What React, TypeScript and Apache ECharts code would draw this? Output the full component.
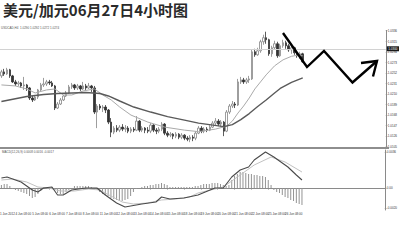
import React, { useEffect, useRef } from "react";
import * as echarts from "echarts";

// USD/CAD 4-hour bars, 1 Jun 12:00 .. 27 Jun 08:00 (2012)
const tradingDays = [
  "1 Jun", "4 Jun", "5 Jun", "6 Jun", "7 Jun", "8 Jun", "11 Jun", "12 Jun", "13 Jun", "14 Jun",
  "15 Jun", "18 Jun", "19 Jun", "20 Jun", "21 Jun", "22 Jun", "25 Jun", "26 Jun", "27 Jun",
  "28 Jun", "29 Jun", "2 Jul", "3 Jul", "4 Jul",
];
const barHours = ["00:00", "04:00", "08:00", "12:00", "16:00", "20:00"];

const opens = [
  1.0246, 1.0254, 1.025, 1.0258, 1.0246, 1.0234, 1.023, 1.0232, 1.0226, 1.0228,
  1.0222, 1.0202, 1.0198, 1.0204, 1.0218, 1.0228, 1.023, 1.0234, 1.0232, 1.0226,
  1.0182, 1.019, 1.0198, 1.0206, 1.0212, 1.0224, 1.0228, 1.0222, 1.0226, 1.022,
  1.0226, 1.0222, 1.0226, 1.0222, 1.0174, 1.0186, 1.0182, 1.0184, 1.0178, 1.0154,
  1.0134, 1.0142, 1.0138, 1.0144, 1.014, 1.0142, 1.0136, 1.014, 1.0138, 1.0156,
  1.0138, 1.0142, 1.0138, 1.0136, 1.0148, 1.0138, 1.0136, 1.014, 1.015, 1.0132,
  1.0128, 1.013, 1.0126, 1.013, 1.0124, 1.0128, 1.0122, 1.012, 1.0124, 1.0122,
  1.0132, 1.0142, 1.0136, 1.014, 1.0138, 1.0144, 1.0152, 1.0156, 1.015, 1.0154,
  1.0136, 1.0174, 1.0186, 1.019, 1.0188, 1.0234, 1.0238, 1.0234, 1.0238, 1.024,
  1.0294, 1.0288, 1.0296, 1.0314, 1.0322, 1.0318, 1.029, 1.0302, 1.031, 1.0286,
  1.0306, 1.0312, 1.0306, 1.0298, 1.0302, 1.0292, 1.0286, 1.029,
];
const closes = [
  1.0254, 1.025, 1.0258, 1.0246, 1.0234, 1.023, 1.0232, 1.0226, 1.0228, 1.0222,
  1.0202, 1.0198, 1.0204, 1.0218, 1.0228, 1.023, 1.0234, 1.0232, 1.0226, 1.0182,
  1.019, 1.0198, 1.0206, 1.0212, 1.0224, 1.0228, 1.0222, 1.0226, 1.022, 1.0226,
  1.0222, 1.0226, 1.0222, 1.0174, 1.0186, 1.0182, 1.0184, 1.0178, 1.0154, 1.0134,
  1.0142, 1.0138, 1.0144, 1.014, 1.0142, 1.0136, 1.014, 1.0138, 1.0156, 1.0138,
  1.0142, 1.0138, 1.0136, 1.0148, 1.0138, 1.0136, 1.014, 1.015, 1.0132, 1.0128,
  1.013, 1.0126, 1.013, 1.0124, 1.0128, 1.0122, 1.012, 1.0124, 1.0122, 1.0132,
  1.0142, 1.0136, 1.014, 1.0138, 1.0144, 1.0152, 1.0156, 1.015, 1.0154, 1.0136,
  1.0174, 1.0186, 1.019, 1.0188, 1.0234, 1.0238, 1.0234, 1.0238, 1.024, 1.0294,
  1.0288, 1.0296, 1.0314, 1.0322, 1.0318, 1.029, 1.0302, 1.031, 1.0286, 1.0306,
  1.0312, 1.0306, 1.0298, 1.0302, 1.0292, 1.0286, 1.029, 1.0274,
];
const highs = [
  1.0258, 1.026, 1.0262, 1.026, 1.0248, 1.0238, 1.0236, 1.0234, 1.0244, 1.023,
  1.0224, 1.0206, 1.0208, 1.022, 1.0232, 1.0242, 1.0238, 1.0238, 1.0236, 1.0228,
  1.0194, 1.0202, 1.0208, 1.0216, 1.0228, 1.0232, 1.023, 1.023, 1.0228, 1.0234,
  1.023, 1.0232, 1.0228, 1.0226, 1.019, 1.019, 1.0188, 1.0188, 1.018, 1.0162,
  1.0146, 1.0148, 1.0148, 1.015, 1.0148, 1.0146, 1.0144, 1.0144, 1.0166, 1.0158,
  1.0146, 1.0144, 1.0144, 1.0152, 1.015, 1.0142, 1.0144, 1.0154, 1.0152, 1.0136,
  1.0134, 1.0132, 1.0134, 1.0132, 1.0132, 1.013, 1.0126, 1.0128, 1.0128, 1.0136,
  1.0146, 1.0146, 1.0144, 1.0144, 1.0148, 1.0156, 1.0162, 1.016, 1.0158, 1.0156,
  1.0178, 1.019, 1.0196, 1.0194, 1.024, 1.0244, 1.0242, 1.0242, 1.0246, 1.0298,
  1.03, 1.0302, 1.0318, 1.0328, 1.0334, 1.032, 1.0306, 1.0316, 1.0314, 1.031,
  1.0318, 1.0316, 1.031, 1.0306, 1.0304, 1.0296, 1.0294, 1.0292,
];
const lows = [
  1.0242, 1.0246, 1.0248, 1.0242, 1.0232, 1.0226, 1.0226, 1.0222, 1.0218, 1.0216,
  1.0198, 1.0194, 1.0196, 1.02, 1.0216, 1.0224, 1.0226, 1.0228, 1.0224, 1.0178,
  1.018, 1.0188, 1.0196, 1.0204, 1.021, 1.022, 1.0218, 1.0218, 1.0216, 1.0218,
  1.0218, 1.022, 1.0214, 1.017, 1.0142, 1.0178, 1.0174, 1.0172, 1.015, 1.0124,
  1.013, 1.0134, 1.0134, 1.0136, 1.0134, 1.0132, 1.0132, 1.0134, 1.0136, 1.0134,
  1.0134, 1.0132, 1.0132, 1.0132, 1.0134, 1.013, 1.0132, 1.0136, 1.0128, 1.0124,
  1.0124, 1.012, 1.0122, 1.012, 1.012, 1.0118, 1.0116, 1.0114, 1.0116, 1.0118,
  1.013, 1.0132, 1.0132, 1.0134, 1.0136, 1.0142, 1.0148, 1.0146, 1.0144, 1.0126,
  1.0134, 1.017, 1.0182, 1.0182, 1.0186, 1.023, 1.023, 1.023, 1.0232, 1.0238,
  1.0284, 1.0286, 1.0292, 1.0308, 1.031, 1.0286, 1.0284, 1.0298, 1.0282, 1.0284,
  1.0302, 1.03, 1.0294, 1.029, 1.0288, 1.0282, 1.028, 1.0272,
];

// moving averages, [bar, price]
const fastMA = [
  [0, 1.0228], [5, 1.0226], [9, 1.022], [12, 1.0212], [16, 1.0218], [19, 1.022], [22, 1.0208],
  [25, 1.0208], [29, 1.0216], [33, 1.022], [36, 1.0208], [39, 1.0198], [42, 1.0184], [46, 1.0168],
  [52, 1.0154], [58, 1.0144], [65, 1.0138], [70, 1.0135], [76, 1.014], [80, 1.0146], [82, 1.0156],
  [84, 1.0172], [86, 1.0186], [88, 1.0202], [90, 1.022], [92, 1.0234], [94, 1.0248], [97, 1.0266],
  [100, 1.0278], [103, 1.0285], [105, 1.0287], [107, 1.0286],
];
const slowMA = [
  [0, 1.0195], [9, 1.0205], [15, 1.0209], [20, 1.0211], [30, 1.0213], [35, 1.0211], [38, 1.0206],
  [42, 1.0196], [47, 1.0184], [53, 1.0174], [59, 1.0165], [65, 1.0158], [70, 1.0152], [79, 1.0145],
  [82, 1.0149], [85, 1.0159], [88, 1.0171], [91, 1.0185], [94, 1.0198], [97, 1.0212], [99, 1.0221],
  [103, 1.0233], [107, 1.0242],
];

// MACD(12,26,9)
const macdHist = [
  0.0003, 0.0004, 0.0004, 0.0002, -0.0001, -0.0002, -0.0003, -0.0004, -0.0005, -0.0006,
  -0.0008, -0.001, -0.0009, -0.0006, -0.0003, -0.0001, 0, 0.0001, 0.0001, -0.0002,
  -0.0005, -0.0006, -0.0006, -0.0004, -0.0002, 0, 0.0002, 0.0002, 0.0002, 0.0002,
  0.0002, 0.0002, 0.0001, 0, -0.0002, -0.0004, -0.0006, -0.0007, -0.0008, -0.001,
  -0.0011, -0.0012, -0.0013, -0.0013, -0.0012, -0.0011, -0.0008, -0.0004, -0.0001, 0,
  0.0001, 0.0002, 0.0002, 0.0003, 0.0003, 0.0004, 0.0004, 0.0005, 0.0004, 0.0003,
  0.0001, 0.0001, 0.0001, 0.0001, 0.0001, 0.0001, 0.0001, 0.0001, 0.0001, 0.0002,
  0.0002, 0.0003, 0.0004, 0.0004, 0.0004, 0.0005, 0.0005, 0.0005, 0.0004, 0.0003,
  0.0002, 0.0003, 0.0008, 0.0012, 0.0014, 0.0016, 0.0016, 0.0015, 0.0014, 0.0014,
  0.0013, 0.0013, 0.0012, 0.0012, 0.0011, 0.0008, 0.0003, -0.0002, -0.0004, -0.0005,
  -0.0007, -0.0009, -0.001, -0.0012, -0.0013, -0.0015, -0.0016, -0.0017,
];
const macdMain = [
  [0, 0.001], [2, 0.0011], [7, 0.0006], [11, -0.0002], [13, -0.0004], [15, 0], [18, 0.0001],
  [20, -0.0007], [22, -0.0007], [25, -0.0002], [30, 0], [34, 0], [37, -0.0007], [41, -0.0015],
  [44, -0.0019], [46, -0.0018], [50, -0.0016], [55, -0.0014], [57, -0.0009], [60, -0.0011],
  [65, -0.001], [70, -0.0007], [76, 0], [79, 0], [82, 0.0011], [85, 0.0018], [88, 0.0021],
  [90, 0.0028], [94, 0.0036], [97, 0.0031], [102, 0.0021], [105, 0.0013], [107, 0.0008],
];
const macdSignal = [
  [0, 0.0008], [4, 0.0009], [9, 0.0006], [13, 0.0001], [17, 0], [21, -0.0003], [26, -0.0003],
  [31, -0.0001], [35, -0.0002], [39, -0.0008], [43, -0.0014], [47, -0.0016], [52, -0.0015],
  [57, -0.0012], [62, -0.0011], [67, -0.0009], [70, -0.0005], [79, 0.0001], [84, 0.0011],
  [90, 0.0023], [96, 0.0031], [101, 0.0026], [107, 0.0016],
];

// right-hand scale labels
const priceMin = 1.0105;
const priceMax = 1.0336;
const priceStep = 0.0021;
const macdMin = -0.0022;
const macdMax = 0.0038;
const macdTicks = [-0.002, 0, 0.0036];

const totalSlots = 137;
const allSlots: string[] = [];
tradingDays.forEach((d) => barHours.forEach((h) => allSlots.push(`${d} ${h}`)));
const categories = allSlots.slice(3, 3 + totalSlots);

const candleData = opens.map((o, i) => [o, closes[i], lows[i], highs[i]]);
const last = closes.length - 1;
const fmt4 = (v: number) => v.toFixed(4);

const titleText = "美元/加元06月27日4小时图";
const headerText = `USDCAD,H4  ${fmt4(opens[last])} ${fmt4(highs[last])} ${fmt4(lows[last])} ${fmt4(closes[last])}`;
const macdHeader = `MACD(12,26,9) ${fmt4(macdMain[macdMain.length - 1][1])} ${fmt4(
  macdSignal[macdSignal.length - 1][1]
)} ${fmt4(macdHist[last])}`;

const FONT = "Liberation Sans";
const tiny = { fontSize: 3, fontFamily: FONT, color: "#333" };

const showTime = (index: number, value: string) => index <= last && value.endsWith("08:00");

const option: any = {
  animation: false,
  backgroundColor: "#ffffff",
  grid: [
    { left: 0, right: 11, top: 30.7, height: 116 },
    { left: 0, right: 11, top: 150, height: 60 },
  ],
  xAxis: [
    {
      type: "category",
      gridIndex: 0,
      data: categories,
      boundaryGap: true,
      axisLine: { show: false },
      axisTick: { show: false },
      axisLabel: { show: false },
      splitLine: { show: false },
    },
    {
      type: "category",
      gridIndex: 1,
      data: categories,
      boundaryGap: true,
      axisLine: { show: true, lineStyle: { color: "#8a8a8a", width: 1 } },
      axisTick: { show: true, interval: showTime, length: 1.5, alignWithLabel: true, lineStyle: { color: "#8a8a8a" } },
      axisLabel: { ...tiny, interval: showTime, align: "left", margin: 2.5 },
      splitLine: { show: false },
    },
  ],
  yAxis: [
    {
      type: "value",
      gridIndex: 0,
      position: "right",
      min: priceMin,
      max: priceMax,
      interval: priceStep,
      axisLine: { show: true, lineStyle: { color: "#8a8a8a", width: 1 } },
      axisTick: { show: true, length: 1.5, lineStyle: { color: "#8a8a8a" } },
      axisLabel: { ...tiny, margin: 2, formatter: (v: number) => fmt4(v) },
      splitLine: { show: false },
    },
    {
      type: "value",
      gridIndex: 1,
      position: "right",
      min: macdMin,
      max: macdMax,
      axisLine: { show: true, lineStyle: { color: "#8a8a8a", width: 1 } },
      axisTick: { show: true, length: 1.5, customValues: macdTicks, lineStyle: { color: "#8a8a8a" } },
      axisLabel: {
        ...tiny,
        margin: 2,
        customValues: macdTicks,
        formatter: (v: number) => (v === 0 ? "0.00" : fmt4(v)),
      },
      splitLine: { show: false },
    },
  ],
  series: [
    {
      type: "candlestick",
      xAxisIndex: 0,
      yAxisIndex: 0,
      data: candleData,
      barWidth: 2,
      itemStyle: {
        color: "#ffffff",
        borderColor: "#858585",
        color0: "#333333",
        borderColor0: "#333333",
        borderWidth: 0.8,
      },
      markLine: {
        silent: true,
        symbol: ["none", "none"],
        data: [{ yAxis: closes[last] }],
        lineStyle: { color: "#d2d2d2", width: 1, type: "solid" },
        label: {
          position: "end",
          distance: 1,
          formatter: (p: any) => fmt4(p.value),
          backgroundColor: "#1a1a1a",
          color: "#ffffff",
          fontSize: 3,
          fontFamily: FONT,
          padding: [1, 1.5],
        },
      },
      z: 2,
    },
    {
      type: "line",
      xAxisIndex: 0,
      yAxisIndex: 0,
      data: fastMA,
      showSymbol: false,
      lineStyle: { color: "#aaaaaa", width: 1 },
      z: 3,
    },
    {
      type: "line",
      xAxisIndex: 0,
      yAxisIndex: 0,
      data: slowMA,
      showSymbol: false,
      lineStyle: { color: "#5a5a5a", width: 1.4 },
      z: 3,
    },
    {
      type: "bar",
      xAxisIndex: 1,
      yAxisIndex: 1,
      data: macdHist,
      barWidth: 1,
      itemStyle: { color: "#939393" },
    },
    {
      type: "line",
      xAxisIndex: 1,
      yAxisIndex: 1,
      data: macdSignal,
      showSymbol: false,
      lineStyle: { color: "#c2c2c2", width: 1 },
      z: 3,
    },
    {
      type: "line",
      xAxisIndex: 1,
      yAxisIndex: 1,
      data: macdMain,
      showSymbol: false,
      lineStyle: { color: "#4a4a4a", width: 1.1 },
      z: 4,
    },
  ],
  graphic: [
    {
      type: "text",
      left: 3,
      top: 2,
      style: {
        text: titleText,
        fontSize: 15,
        fontWeight: "bold",
        fontFamily: "Noto Sans CJK SC",
        fill: "#2a2a2a",
      },
    },
    {
      type: "text",
      left: 1,
      top: 26.5,
      style: { text: headerText, fontSize: 3, fontFamily: FONT, fill: "#555" },
    },
    {
      type: "text",
      left: 2,
      top: 150.5,
      style: { text: macdHeader, fontSize: 3, fontFamily: FONT, fill: "#555" },
      z: 10,
    },
    {
      type: "text",
      left: 0,
      top: 212.5,
      style: { text: "1 Jun 2012", fontSize: 3, fontFamily: FONT, fill: "#333" },
    },
    {
      type: "rect",
      shape: { x: 0, y: 147, width: 389, height: 2 },
      style: { fill: "#8e8e8e" },
      z: 50,
    },
    {
      type: "polyline",
      shape: {
        points: [
          [283, 33],
          [307, 67],
          [324, 51],
          [352.5, 82.5],
          [377, 61],
        ],
      },
      style: { stroke: "#000", lineWidth: 2.4, fill: "none", lineJoin: "miter" },
      z: 60,
    },
    {
      type: "polyline",
      shape: {
        points: [
          [361, 63],
          [377, 61],
          [373, 76.5],
        ],
      },
      style: { stroke: "#000", lineWidth: 2.4, fill: "none", lineJoin: "miter" },
      z: 60,
    },
  ],
};

export default function App() {
  const ref = useRef<HTMLDivElement>(null);
  useEffect(() => {
    if (!ref.current) return;
    const chart = echarts.init(ref.current, undefined, { renderer: "svg" });
    chart.setOption(option);
    return () => chart.dispose();
  }, []);
  return (
    <div
      ref={ref}
      style={{ position: "absolute", left: 0, top: 0, width: 400, height: 242, background: "#fff" }}
    />
  );
}
